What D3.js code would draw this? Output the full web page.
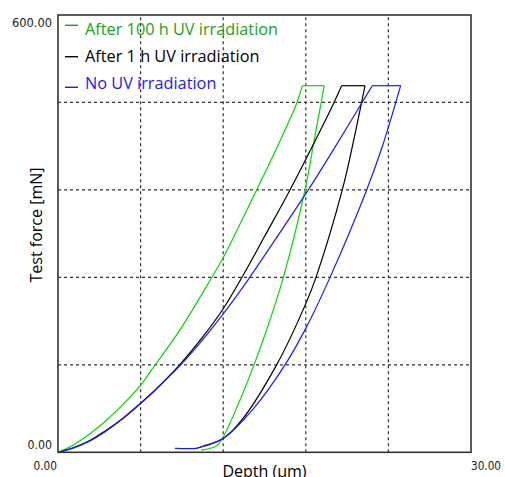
<!DOCTYPE html>
<html>
<head>
<meta charset="utf-8">
<script src="https://cdn.jsdelivr.net/npm/d3@7"></script>
<style>
  body { margin: 0; background: #fff; }
  svg { display: block; }
</style>
</head>
<body>
<div id="chart"></div>
<script>
// Chart size
const WIDTH = 505;
const HEIGHT = 477;
const PLOT = { left: 58, right: 471, top: 15, bottom: 452.3 };

// Axis ranges and labels
const X_DOMAIN = [0, 30];
const Y_DOMAIN = [0, 600];
const X_GRID = [6, 12, 18, 24];
const Y_GRID = [120, 240, 360, 480];
const X_LABELS = ['0.00', '30.00'];
const Y_LABELS = ['0.00', '600.00'];

// Series names (legend order)
const SERIES = ['After 100 h UV irradiation', 'After 1 h UV irradiation', 'No UV irradiation'];

// [depth um, force mN]
// After 100 h
const load100h = [[0, 0], [1, 8.6], [2.2, 23.7], [3.4, 42], [4.63, 64], [6.03, 93], [6.8, 113],
  [8.86, 168], [11.05, 236], [12, 267], [14.35, 357], [16, 422], [17.34, 479], [17.75, 503]];
const hold100h = [[17.75, 503], [19.34, 503]];
const unload100h = [[10.4, 3], [11.5, 8.6], [12, 21], [13, 62], [14.24, 120], [15.3, 176],
  [16.37, 240], [17.94, 360], [18.6, 427], [19.34, 503]];

// After 1 h
const load1h = [[0, 0], [1, 5.5], [2.2, 15], [3.4, 29], [4.6, 45], [6, 67.5], [7, 84.5], [8.4, 111],
  [8.86, 120.5], [10.5, 158], [12, 197], [13.27, 237], [15, 296], [16.85, 360], [18.8, 432], [20, 478], [20.6, 503]];
const hold1h = [[20.6, 503], [22.3, 503]];
const unload1h = [[10.07, 5.5], [12, 19], [13.34, 44], [15.88, 120], [18, 204], [18.74, 240],
  [20.65, 360], [21.5, 430], [22.3, 503]];

// No UV
const load0h = [[0, 0], [1, 5], [2.2, 14.5], [3.4, 28], [4.6, 44.5], [6, 67], [7, 84], [8.4, 110],
  [8.86, 119], [10, 143], [12, 190], [13.78, 236], [16, 298], [18.18, 360], [20, 415], [22.06, 479], [22.83, 503]];
const hold0h = [[22.83, 503], [24.89, 503]];
const unload0h = [[8.5, 5.5], [10.07, 5.5], [10.55, 8.6], [12, 19], [14.2, 60], [16.49, 120],
  [18, 170], [19.76, 240], [22.42, 360], [23.6, 422], [24.89, 503]];

const LINE_COLORS = ['#00dd00', '#000000', '#1a1aff'];
const MARK_COLORS = ['#1aa31a', '#000000', '#1a1aff'];
const TEXT_COLORS = ['#1aa31a', '#000000', '#1a1aff'];

let svg = d3.select('#chart').append('svg')
  .attr('width', WIDTH)
  .attr('height', HEIGHT);

let x = d3.scaleLinear().domain(X_DOMAIN).range([PLOT.left, PLOT.right]);
let y = d3.scaleLinear().domain(Y_DOMAIN).range([PLOT.bottom, PLOT.top]);

// Dashed grid
svg.selectAll('.vgrid').data(X_GRID).enter().append('line')
  .attr('x1', d => x(d)).attr('x2', d => x(d))
  .attr('y1', y(Y_DOMAIN[0])).attr('y2', y(Y_DOMAIN[1]))
  .attr('stroke', '#333').attr('stroke-width', 1.2)
  .attr('stroke-dasharray', '3,3');
svg.selectAll('.hgrid').data(Y_GRID).enter().append('line')
  .attr('x1', x(X_DOMAIN[0])).attr('x2', x(X_DOMAIN[1]))
  .attr('y1', d => y(d)).attr('y2', d => y(d))
  .attr('stroke', '#333').attr('stroke-width', 1.2)
  .attr('stroke-dasharray', '3,3');

// Curves: loading, hold, unloading drawn as separate pieces so corners stay sharp
let line = d3.line().x(d => x(d[0])).y(d => y(d[1])).curve(d3.curveCatmullRom.alpha(0.5));
let curves = [
  [load100h, hold100h, unload100h],
  [load1h, hold1h, unload1h],
  [load0h, hold0h, unload0h]
];
curves.forEach((parts, i) => {
  parts.forEach(p => {
    svg.append('path')
      .attr('d', line(p))
      .attr('fill', 'none')
      .attr('stroke', LINE_COLORS[i])
      .attr('stroke-width', 1.2);
  });
});

// Frame
svg.append('rect')
  .attr('x', PLOT.left).attr('y', PLOT.top)
  .attr('width', PLOT.right - PLOT.left)
  .attr('height', PLOT.bottom - PLOT.top)
  .attr('fill', 'none')
  .attr('stroke', '#333')
  .attr('stroke-width', 1.6);

// Tick labels (ends only)
const TICK_FONT = "'DejaVu Sans', sans-serif";
function tick_label (t, px, py, anchor, len) {
  svg.append('text')
    .text(t)
    .attr('x', px).attr('y', py)
    .attr('text-anchor', anchor)
    .attr('font-family', TICK_FONT)
    .attr('font-size', 13)
    .attr('textLength', len)
    .attr('lengthAdjust', 'spacingAndGlyphs')
    .attr('fill', '#222');
}
tick_label(Y_LABELS[1], PLOT.left - 6, y(Y_DOMAIN[1]) + 11.5, 'end', 40);
tick_label(Y_LABELS[0], PLOT.left - 6, y(Y_DOMAIN[0]) - 3, 'end', 24.5);
tick_label(X_LABELS[0], x(X_DOMAIN[0]) - 1, 470, 'end', 23.5);
tick_label(X_LABELS[1], x(X_DOMAIN[1]), 470, 'start', 30);

// Axis titles
const TITLE_FONT = "'Open Sans', 'Noto Sans', sans-serif";
svg.append('text')
  .text('Depth (μm)')
  .attr('x', 264.5).attr('y', 476.5)
  .attr('text-anchor', 'middle')
  .attr('font-family', TITLE_FONT)
  .attr('font-size', 16)
  .attr('fill', '#000');
svg.append('text')
  .text('Test force [mN]')
  .attr('text-anchor', 'middle')
  .attr('font-family', TITLE_FONT)
  .attr('font-size', 16)
  .attr('fill', '#000')
  .attr('transform', 'translate(42,225)rotate(-90)');

// Legend
const LEGEND_MARK_Y = [25.3, 56.7, 87.3];
const LEGEND_TEXT_Y = [35, 62.3, 89.3];
SERIES.forEach((s, i) => {
  svg.append('line')
    .attr('x1', 65).attr('x2', 78)
    .attr('y1', LEGEND_MARK_Y[i]).attr('y2', LEGEND_MARK_Y[i])
    .attr('stroke', MARK_COLORS[i])
    .attr('stroke-width', 1.4);
  svg.append('text')
    .text(s)
    .attr('x', 85).attr('y', LEGEND_TEXT_Y[i])
    .attr('font-family', TITLE_FONT)
    .attr('font-size', 16.3)
    .attr('fill', TEXT_COLORS[i]);
});
</script>
</body>
</html>
